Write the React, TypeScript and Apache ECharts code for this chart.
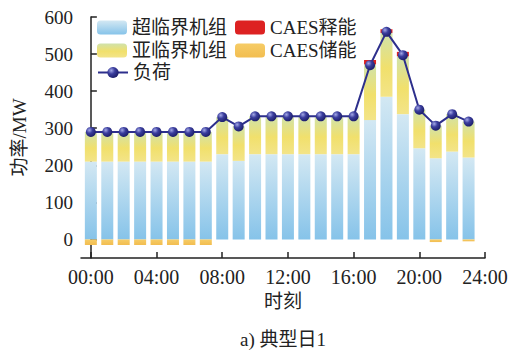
import { useEffect, useRef } from "react";
import * as echarts from "echarts";

// Hour of day for each bar / load point
const hours = ["0", "1", "2", "3", "4", "5", "6", "7", "8", "9", "10", "11", "12", "13", "14", "15", "16", "17", "18", "19", "20", "21", "22", "23"];

// Supercritical units output (MW)
const supercritical = [210, 210, 210, 210, 210, 210, 210, 210, 230, 212, 230, 230, 230, 230, 230, 230, 230, 322, 385, 338, 246, 219, 237, 221];
// Subcritical units output (MW), stacked on the supercritical units
const subcritical = [80, 80, 80, 80, 80, 80, 80, 80, 100, 93, 102, 102, 102, 102, 102, 102, 102, 150, 172, 156, 104, 88, 101, 97];
// CAES discharging (MW)
const caesDischarge = [0, 0, 0, 0, 0, 0, 0, 0, 0, 0, 0, 0, 0, 0, 0, 0, 0, 12, 10, 12, 0, 0, 0, 0];
// CAES charging (MW, negative)
const caesCharge = [-15, -15, -15, -15, -15, -15, -15, -15, 0, 0, 0, 0, 0, 0, 0, 0, 0, 0, 0, 0, 0, -7, 0, -5];
// Load (MW)
const load = [290, 290, 290, 290, 290, 290, 290, 290, 330, 305, 332, 332, 332, 332, 332, 332, 332, 470, 560, 497, 350, 307, 338, 318];

const xTickValues = [0, 4, 8, 12, 16, 20, 24];
const xTickLabels = ["00:00", "04:00", "08:00", "12:00", "16:00", "20:00", "24:00"];
const yTickValues = [0, 100, 200, 300, 400, 500, 600];

const FONT = "'Times New Roman', 'Liberation Serif', 'Noto Sans CJK SC', serif";

// Plot frame (px) and the hour span drawn on it
const FRAME_LEFT = 81;
const FRAME_RIGHT = 26;
const FRAME_WIDTH = 511 - FRAME_LEFT - FRAME_RIGHT;
const X_MIN = -0.6;
const X_MAX = 24;
const PX_PER_HOUR = FRAME_WIDTH / (X_MAX - X_MIN);
// Band grid for the hourly bars, so that each band is centred on its hour
const BAND_LEFT = FRAME_LEFT + (-0.5 - X_MIN) * PX_PER_HOUR;
const BAND_RIGHT = 511 - (BAND_LEFT + hours.length * PX_PER_HOUR);

export default function App() {
  const ref = useRef<HTMLDivElement>(null);

  useEffect(() => {
    if (!ref.current) return;
    const chart = echarts.init(ref.current, undefined, { renderer: "svg" });

    const blue = new echarts.graphic.LinearGradient(0, 0, 0, 1, [
      { offset: 0, color: "#d3e8f3" },
      { offset: 1, color: "#86c3e9" },
    ]);
    const yellowGreen = new echarts.graphic.LinearGradient(0, 0, 0, 1, [
      { offset: 0, color: "#d0e2ab" },
      { offset: 0.55, color: "#f1e06c" },
      { offset: 1, color: "#f3e488" },
    ]);
    const red = "#dd2222";
    const orange = new echarts.graphic.LinearGradient(0, 0, 0, 1, [
      { offset: 0, color: "#f6cc66" },
      { offset: 1, color: "#f2bd50" },
    ]);
    const ball = new echarts.graphic.RadialGradient(0.35, 0.32, 0.7, [
      { offset: 0, color: "#a3a8e6" },
      { offset: 0.45, color: "#3b3e9e" },
      { offset: 1, color: "#1d1e6a" },
    ]);

    const legendBase = {
      left: 97,
      itemWidth: 30,
      itemHeight: 14,
      itemGap: 8,
      padding: 0,
      selectedMode: false as const,
      textStyle: { fontFamily: FONT, fontSize: 19, color: "#222" },
    };

    const barBase = {
      type: "bar" as const,
      stack: "gen",
      barWidth: 12,
      xAxisIndex: 1,
      yAxisIndex: 1,
    };

    chart.setOption({
      animation: false,
      backgroundColor: "#ffffff",
      title: {
        text: "a) 典型日1",
        left: 240,
        top: 330,
        padding: 0,
        textStyle: { fontFamily: FONT, fontSize: 19, fontWeight: "normal", color: "#222" },
      },
      legend: [
        { ...legendBase, top: 18, data: ["超临界机组", "CAES释能"] },
        { ...legendBase, top: 41, data: ["亚临界机组", "CAES储能"] },
        { ...legendBase, top: 63, data: ["负荷"] },
      ],
      grid: [
        { left: FRAME_LEFT, right: FRAME_RIGHT, top: 17, bottom: 95 },
        { left: BAND_LEFT, right: BAND_RIGHT, top: 17, bottom: 95 },
      ],
      xAxis: [
        {
          type: "value",
          gridIndex: 0,
          min: X_MIN,
          max: X_MAX,
          name: "时刻",
          nameLocation: "middle",
          nameGap: 30,
          nameTextStyle: { fontFamily: FONT, fontSize: 19, color: "#222" },
          axisLine: { show: true, onZero: false, lineStyle: { color: "#222", width: 1.5 } },
          axisTick: { show: true, inside: true, length: 6, customValues: xTickValues, lineStyle: { color: "#222", width: 1.5 } },
          axisLabel: {
            customValues: xTickValues,
            margin: 9,
            fontFamily: FONT,
            fontSize: 20,
            color: "#222",
            formatter: (v: number) => xTickLabels[xTickValues.indexOf(v)] ?? "",
          },
          splitLine: { show: false },
        },
        {
          type: "category",
          gridIndex: 1,
          data: hours,
          boundaryGap: true,
          show: false,
        },
      ],
      yAxis: [
        {
          type: "value",
          gridIndex: 0,
          min: -50,
          max: 600,
          name: "功率/MW",
          nameLocation: "middle",
          nameGap: 52,
          nameTextStyle: { fontFamily: FONT, fontSize: 19, color: "#222" },
          axisLine: { show: true, lineStyle: { color: "#222", width: 1.5 } },
          axisTick: { show: true, inside: true, length: 6, customValues: yTickValues, lineStyle: { color: "#222", width: 1.5 } },
          axisLabel: { customValues: yTickValues, margin: 8, fontFamily: FONT, fontSize: 19, color: "#222" },
          splitLine: { show: false },
        },
        {
          type: "value",
          gridIndex: 1,
          min: -50,
          max: 600,
          show: false,
          splitLine: { show: false },
        },
      ],
      series: [
        { ...barBase, name: "超临界机组", itemStyle: { color: blue }, data: supercritical },
        { ...barBase, name: "亚临界机组", itemStyle: { color: yellowGreen }, data: subcritical },
        { ...barBase, name: "CAES释能", itemStyle: { color: red }, data: caesDischarge },
        { ...barBase, name: "CAES储能", itemStyle: { color: orange }, data: caesCharge },
        {
          type: "line",
          name: "负荷",
          xAxisIndex: 1,
          yAxisIndex: 1,
          data: load,
          symbol: "circle",
          symbolSize: 10,
          z: 5,
          itemStyle: { color: ball },
          lineStyle: { color: "#2d2f8c", width: 2 },
        },
      ],
    });

    return () => chart.dispose();
  }, []);

  return (
    <div
      ref={ref}
      style={{ position: "fixed", left: 0, top: 0, width: 511, height: 353, background: "#fff" }}
    />
  );
}
